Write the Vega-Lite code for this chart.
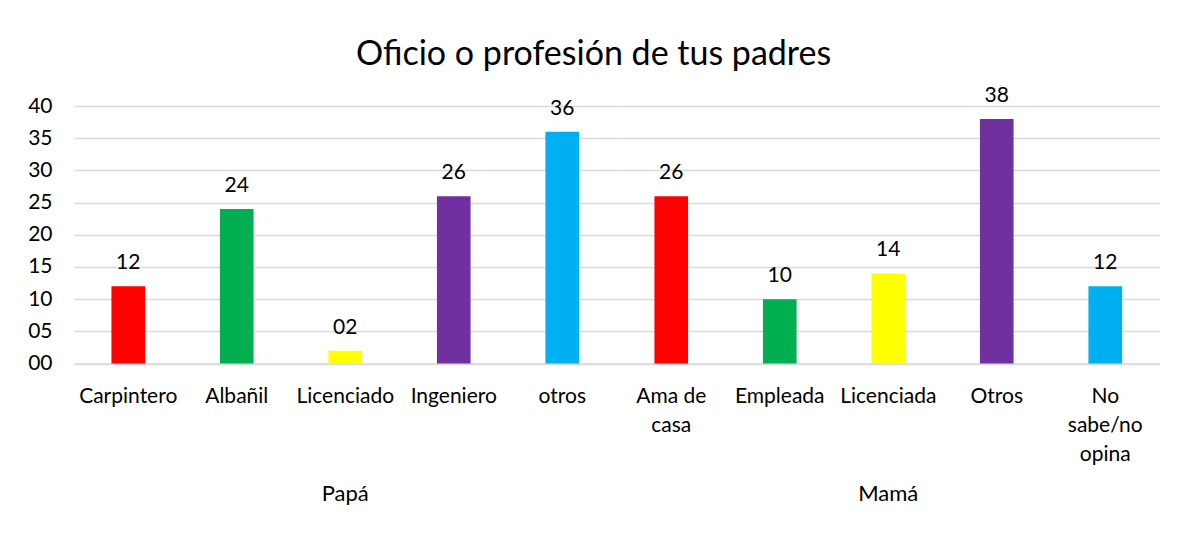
{
  "$schema": "https://vega.github.io/schema/vega-lite/v6.json",
  "background": "white",
  "padding": {"left": 27, "top": 37, "right": 29, "bottom": 10},
  "title": {"text": "Oficio o profesión de tus padres", "font": "Lato", "fontSize": 34, "fontWeight": "normal", "color": "#000000", "anchor": "middle", "offset": 13},
  "data": {"values": [
    {"grupo": "Papá", "oficio": "Carpintero", "valor": 12},
    {"grupo": "Papá", "oficio": "Albañil", "valor": 24},
    {"grupo": "Papá", "oficio": "Licenciado", "valor": 2},
    {"grupo": "Papá", "oficio": "Ingeniero", "valor": 26},
    {"grupo": "Papá", "oficio": "otros", "valor": 36},
    {"grupo": "Mamá", "oficio": "Ama de casa", "valor": 26},
    {"grupo": "Mamá", "oficio": "Empleada", "valor": 10},
    {"grupo": "Mamá", "oficio": "Licenciada", "valor": 14},
    {"grupo": "Mamá", "oficio": "Otros", "valor": 38},
    {"grupo": "Mamá", "oficio": "No sabe/no opina", "valor": 12}
  ]},
  "facet": {
    "column": {
      "field": "grupo", "type": "nominal", "sort": ["Papá", "Mamá"],
      "header": {"title": null, "labelOrient": "bottom", "labelFont": "Lato", "labelFontSize": 22, "labelColor": "#000000", "labelPadding": 19}
    }
  },
  "spacing": 0,
  "resolve": {"scale": {"x": "independent"}},
  "spec": {
    "width": 542.5,
    "height": 257.5,
    "encoding": {
      "x": {
        "field": "oficio", "type": "nominal", "sort": null,
        "scale": {"paddingInner": 0.69, "paddingOuter": 0.345},
        "axis": {
          "title": null, "labelAngle": 0, "ticks": false, "domainColor": "#d9d9d9", "domainWidth": 1.3,
          "labelFont": "Lato", "labelFontSize": 21, "labelColor": "#000000", "labelPadding": 22,
          "labelLineHeight": 29, "labelOverlap": false, "labelLimit": 300,
          "labelExpr": "datum.value == 'Ama de casa' ? ['Ama de', 'casa'] : datum.value == 'No sabe/no opina' ? ['No', 'sabe/no', 'opina'] : datum.value"
        }
      },
      "y": {
        "field": "valor", "type": "quantitative",
        "scale": {"domain": [0, 40], "nice": false},
        "axis": {
          "title": null, "values": [0, 5, 10, 15, 20, 25, 30, 35, 40], "format": "02d",
          "domain": false, "ticks": false, "gridColor": "#d9d9d9", "gridWidth": 1.3,
          "labelFont": "Lato", "labelFontSize": 21, "labelColor": "#000000", "labelPadding": 22
        }
      }
    },
    "layer": [
      {
        "mark": {"type": "bar"},
        "encoding": {
          "color": {
            "field": "oficio", "type": "nominal", "legend": null,
            "scale": {
              "domain": ["Carpintero", "Albañil", "Licenciado", "Ingeniero", "otros", "Ama de casa", "Empleada", "Licenciada", "Otros", "No sabe/no opina"],
              "range": ["#FF0000", "#00B050", "#FFFF00", "#7030A0", "#00B0F0", "#FF0000", "#00B050", "#FFFF00", "#7030A0", "#00B0F0"]
            }
          }
        }
      },
      {
        "mark": {"type": "text", "baseline": "alphabetic", "dy": -17, "font": "Lato", "fontSize": 21, "color": "#000000"},
        "encoding": {
          "text": {"field": "valor", "type": "quantitative", "format": "02d"}
        }
      }
    ]
  },
  "config": {
    "view": {"stroke": null}
  }
}
